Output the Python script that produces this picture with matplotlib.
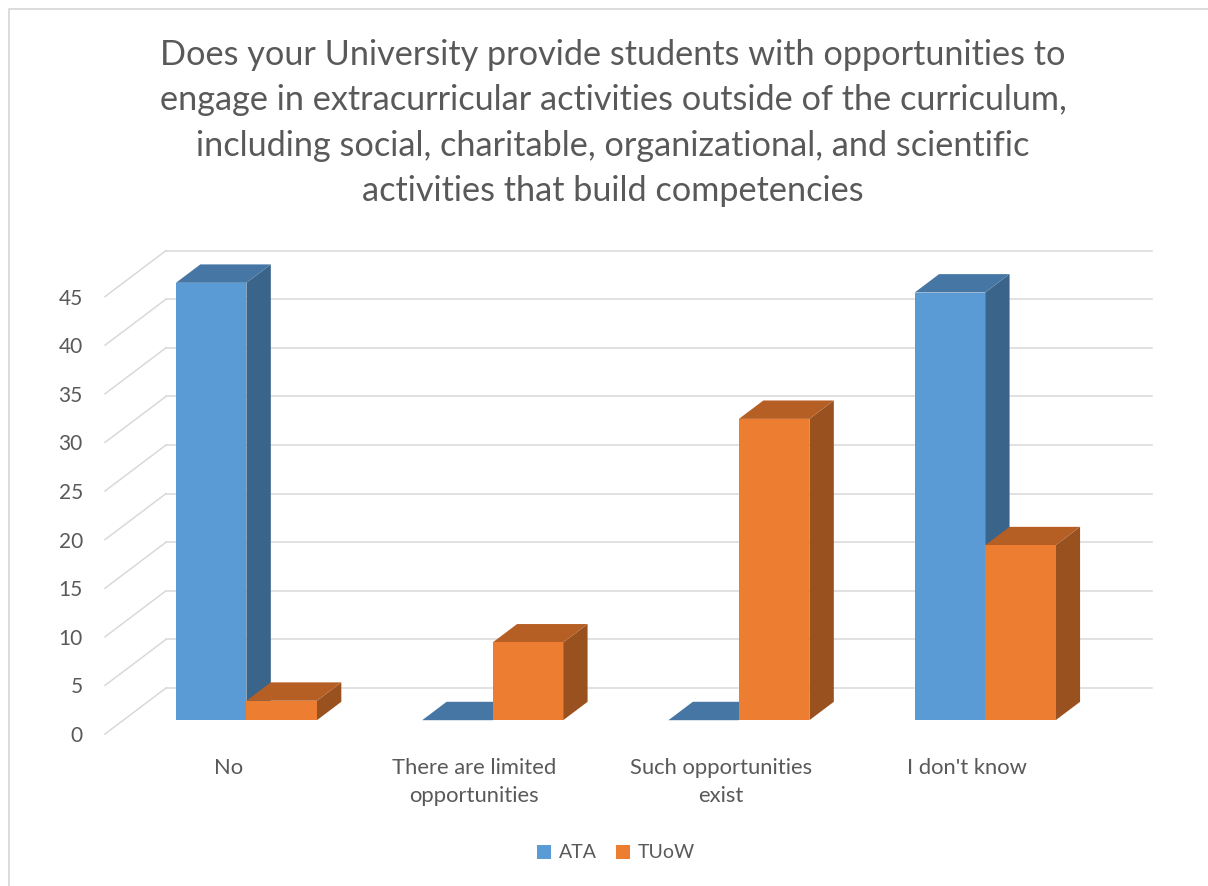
import matplotlib.pyplot as plt
from matplotlib.patches import Polygon, Patch
from matplotlib.lines import Line2D

plt.rcParams['font.family'] = ['Lato', 'DejaVu Sans']

title = ("Does your University provide students with opportunities to\n"
         "engage in extracurricular activities outside of the curriculum,\n"
         "including social, charitable, organizational, and scientific\n"
         "activities that build competencies")
categories = ["No", "There are limited\nopportunities", "Such opportunities\nexist", "I don't know"]
series = ["ATA", "TUoW"]
ata = [45, 0, 0, 44]
tuow = [2, 8, 31, 18]
yticks = [0, 5, 10, 15, 20, 25, 30, 35, 40, 45]

text_col = "#595959"
grid_col = "#d9d9d9"
front_cols = ["#5b9bd5", "#ed7d31"]
top_cols = ["#4677a4", "#b65f25"]
side_cols = ["#3a6489", "#9a5120"]

W, H = 1208, 886
fig = plt.figure(figsize=(W / 100, H / 100), dpi=100)

# plot area: front-left floor corner to the back wall top-right corner
x0, x1, y0, y1 = 105, 1152, 734, 250
ax = fig.add_axes([x0 / W, 1 - y0 / H, (x1 - x0) / W, (y0 - y1) / H])
px_cat = 246.25   # pixels per category
px_val = 9.72     # pixels per unit
ax.set_xlim(0, (x1 - x0) / px_cat)
ax.set_ylim(0, (y0 - y1) / px_val)
for s in ax.spines.values():
    s.set_visible(False)

# oblique depth of the floor, in data units
dx = 61 / px_cat
dy = 46 / px_val
f0, f1 = 0.3, 0.7   # bar depth band
bw = 70.5 / px_cat

# walls: diagonal grid on the left side, horizontal grid on the back
for v in yticks:
    ax.plot([0, dx], [v, v + dy], color=grid_col, lw=1.1, zorder=1, clip_on=False)
    ax.plot([dx, ax.get_xlim()[1]], [v + dy, v + dy], color=grid_col, lw=1.1,
            zorder=1, clip_on=False)

bx, by = dx * f0, dy * f0
ddx, ddy = dx * (f1 - f0), dy * (f1 - f0)
z = 2
for i in range(len(categories)):
    for j, vals in enumerate([ata, tuow]):
        h = vals[i]
        left = i + 0.5 - bw + j * bw + bx
        right = left + bw
        ax.bar(left, h, width=bw, bottom=by, align='edge',
               color=front_cols[j], zorder=z + 2, clip_on=False)
        side = Polygon([(right, by), (right + ddx, by + ddy),
                        (right + ddx, by + ddy + h), (right, by + h)],
                       closed=True, facecolor=side_cols[j], edgecolor='none',
                       zorder=z, clip_on=False)
        top = Polygon([(left, by + h), (right, by + h),
                       (right + ddx, by + h + ddy), (left + ddx, by + h + ddy)],
                      closed=True, facecolor=top_cols[j], edgecolor='none',
                      zorder=z + 1, clip_on=False)
        ax.add_patch(side)
        ax.add_patch(top)
        z += 3

ax.set_yticks(yticks)
ax.set_yticklabels([str(v) for v in yticks])
ax.set_xticks([i + 0.5 for i in range(len(categories))])
ax.set_xticklabels(categories, linespacing=1.5)
ax.tick_params(axis='y', length=0, pad=16, labelsize=15, labelcolor=text_col)
ax.tick_params(axis='x', length=0, pad=17, labelsize=15.8, labelcolor=text_col)

fig.text(613 / W, 1 - 123 / H, title, ha='center', va='center', fontsize=24.7,
         color=text_col, linespacing=1.52)

handles = [Patch(facecolor=front_cols[k], label=series[k]) for k in range(2)]
fig.legend(handles=handles, loc='center', bbox_to_anchor=(616 / W, 1 - 853 / H),
           ncol=2, frameon=False, fontsize=14, handlelength=0.7, handleheight=0.7,
           handletextpad=0.4, columnspacing=1.0, labelcolor=text_col)

# chart area border (left and top edges)
fig.add_artist(Line2D([8.5 / W, 8.5 / W, 1.0], [0.0, 1 - 8.5 / H, 1 - 8.5 / H],
                      transform=fig.transFigure, color=grid_col, lw=1.3))

fig.savefig("out.png", dpi=100)
